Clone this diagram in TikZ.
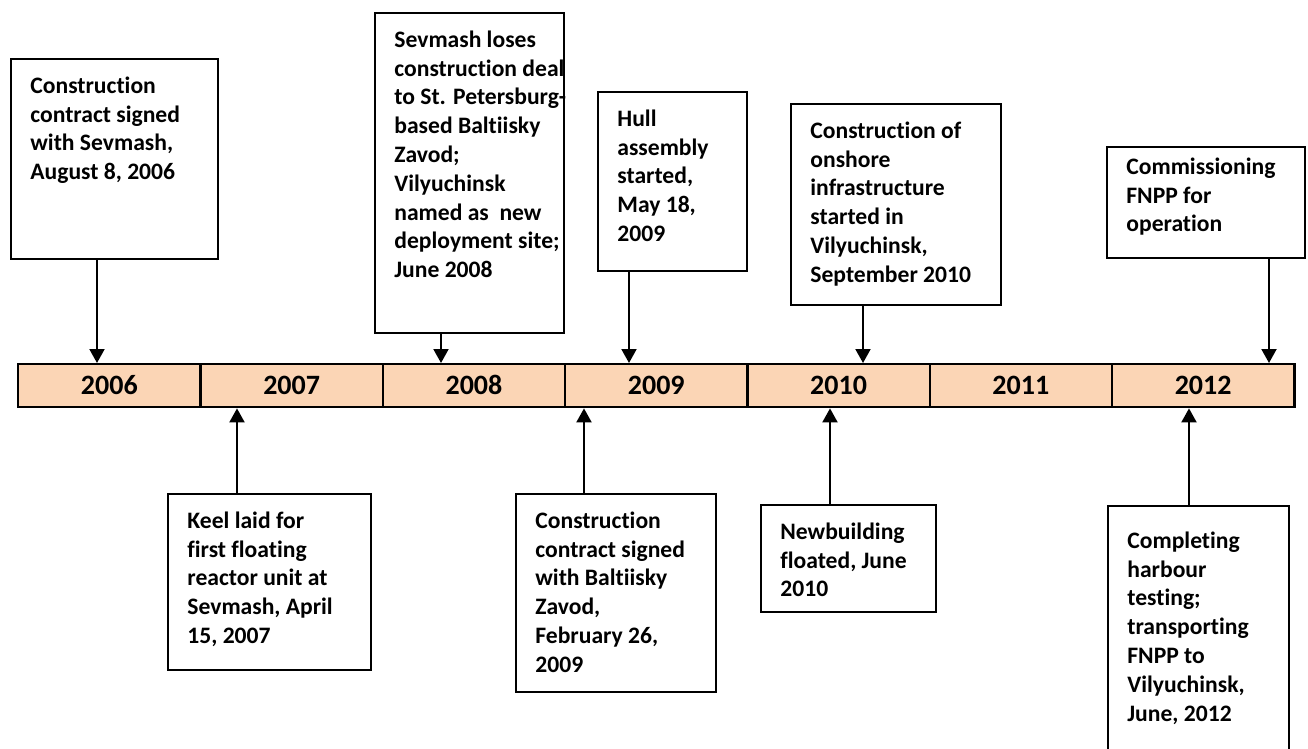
\documentclass[tikz,border=0pt]{standalone}
\usepackage{fontspec}
\setmainfont{Carlito}[Ligatures=NoCommon]
\usepackage{tikz}
\usetikzlibrary{arrows.meta}
\definecolor{barfill}{RGB}{251,213,181}

\begin{document}
\begin{tikzpicture}[x=0.5pt, y=-0.5pt]
\tikzstyle{yearcell}=[draw, line width=1.2pt, fill=barfill, anchor=north west, minimum width=91.15pt, minimum height=21.5pt, inner sep=0pt, text height=8.9pt, text depth=0pt, font=\bfseries\fontsize{14}{17}\selectfont]
\tikzstyle{evbox}=[draw, line width=1pt, anchor=north west, inner sep=0pt]
\tikzstyle{evtext}=[anchor=north west, align=left, inner sep=0pt, xshift=10pt, yshift=-7.35pt, font=\bfseries\fontsize{11.8}{14.4}\selectfont]
\tikzstyle{arr}=[line width=1pt, -{Triangle[width=7.5pt, length=7pt]}]

\useasboundingbox (0,0) rectangle (1308,749);

% timeline bar
\foreach \yr [count=\i from 0] in {2006,...,2012}
  \node[yearcell] (y\yr) at (17+\i*182.3, 363) {\yr};

% events above the bar
\node[evbox, minimum width=103.5pt, minimum height=100pt] (ev1) at (10,58) {};
\node[evtext] at (ev1.north west) {\strut Construction\\contract signed\\with Sevmash,\\August 8, 2006};
\node[evbox, minimum width=94.5pt, minimum height=160pt] (ev2) at (374,12) {};
\node[evtext] at (ev2.north west) {\strut Sevmash loses\\construction deal\\to St. Petersburg-\\based Baltiisky\\Zavod;\\Vilyuchinsk\\named as\ \ new\\deployment site;\\June 2008};
\node[evbox, minimum width=74.5pt, minimum height=89.5pt] (ev3) at (597,91) {};
\node[evtext] at (ev3.north west) {\strut Hull\\assembly\\started,\\May 18,\\2009};
\node[evbox, minimum width=105pt, minimum height=100.5pt] (ev4) at (790,103) {};
\node[evtext] at (ev4.north west) {\strut Construction of\\onshore\\infrastructure\\started in\\Vilyuchinsk,\\September 2010};
\node[evbox, minimum width=99pt, minimum height=55.5pt] (ev5) at (1106,146) {};
\node[evtext, yshift=3.5pt] at (ev5.north west) {\strut Commissioning\\FNPP for\\operation};

% events below the bar
\node[evbox, minimum width=101.5pt, minimum height=88pt] (ev6) at (167,493) {};
\node[evtext] at (ev6.north west) {\strut Keel laid for\\first floating\\reactor unit at\\Sevmash, April\\15, 2007};
\node[evbox, minimum width=100pt, minimum height=99pt] (ev7) at (515,493) {};
\node[evtext] at (ev7.north west) {\strut Construction\\contract signed\\with Baltiisky\\Zavod,\\February 26,\\2009};
\node[evbox, minimum width=87.5pt, minimum height=53.5pt] (ev8) at (760,504) {};
\node[evtext] at (ev8.north west) {\strut Newbuilding\\floated, June\\2010};
\node[evbox, minimum width=90.5pt, minimum height=130pt] (ev9) at (1107,505) {};
\node[evtext, yshift=-4pt] at (ev9.north west) {\strut Completing\\harbour\\testing;\\transporting\\FNPP to\\Vilyuchinsk,\\June, 2012};

% arrows
\draw[arr] ([xshift=43.5pt]ev1.south west) -- ([xshift=43.5pt]ev1.south west |- y2006.north);
\draw[arr] ([xshift=33.5pt]ev2.south west) -- ([xshift=33.5pt]ev2.south west |- y2008.north);
\draw[arr] ([xshift=16pt]ev3.south west) -- ([xshift=16pt]ev3.south west |- y2009.north);
\draw[arr] ([xshift=36.5pt]ev4.south west) -- ([xshift=36.5pt]ev4.south west |- y2010.north);
\draw[arr] ([xshift=81.5pt]ev5.south west) -- ([xshift=81.5pt]ev5.south west |- y2012.north);
\draw[arr] ([xshift=35pt]ev6.north west) -- ([xshift=35pt]ev6.north west |- y2007.south);
\draw[arr] ([xshift=34.5pt]ev7.north west) -- ([xshift=34.5pt]ev7.north west |- y2009.south);
\draw[arr] ([xshift=35pt]ev8.north west) -- ([xshift=35pt]ev8.north west |- y2010.south);
\draw[arr] ([xshift=41pt]ev9.north west) -- ([xshift=41pt]ev9.north west |- y2012.south);

\end{tikzpicture}
\end{document}
